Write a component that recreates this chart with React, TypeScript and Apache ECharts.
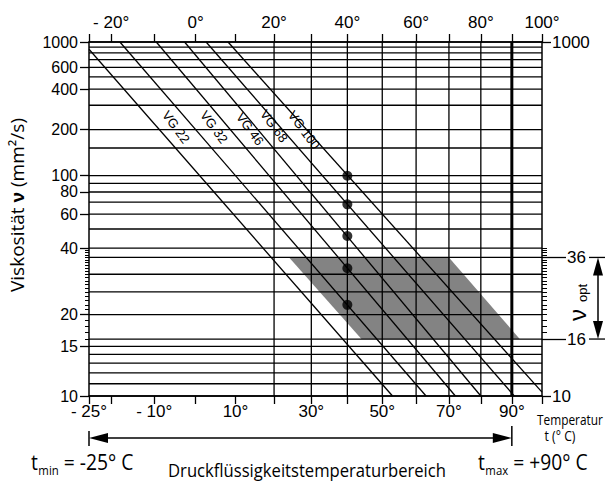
import React, { useEffect, useRef } from "react";
import * as echarts from "echarts";

const KELVIN = 273;
const tx = (t: number) => Math.log10(t + KELVIN);
const ty = (v: number) => Math.log10(Math.log10(v + 0.7));
const untx = (x: number) => Math.pow(10, x) - KELVIN;
const unty = (y: number) => Math.pow(10, Math.pow(10, y)) - 0.7;

// axis ranges
const tempRange = [-25, 100];
const viscRange = [10, 1000];

// temperature axis
const topLabelTemps = [-20, 0, 20, 40, 60, 80, 100];
const bottomLabelTemps = [-25, -10, 10, 30, 50, 70, 90];
const tickTemps = [-25, -20, -10, 0, 10, 20, 30, 40, 50, 60, 70, 80, 90, 100];
const gridTemps = [20, 30, 40, 50, 60, 70, 80];
const boldGridTemps = [90];

// viscosity axis
const gridVisc = [1000, 900, 800, 700, 600, 500, 400, 300, 200, 150, 100, 90, 80, 70, 60, 50, 40, 36, 30, 25, 20, 16, 15, 14, 13, 12, 11, 10];
const leftLabelVisc = [1000, 600, 400, 200, 100, 80, 60, 40, 20, 15, 10];
const leftMinorVisc = [39, 38, 37, 36, 35, 34, 33, 32, 31, 30, 29, 28, 27, 26, 25, 24, 23, 22, 21, 19, 18, 17, 16];
const rightLabelVisc = [1000, 10];
const optVisc = [36, 16];
const rightMinorVisc = [40, 39, 38, 37, 35, 34, 33, 32, 31, 30, 29, 28, 27, 26, 25, 24, 23, 22, 21, 20, 19, 18, 17];

// ISO VG grades, viscosity at 40 °C
const vgNames = ["VG 22", "VG 32", "VG 46", "VG 68", "VG 100"];
const vgVisc40 = [22, 32, 46, 68, 100];
const refTemp = 40;

// viscosity-temperature lines: [temp, viscosity] start and end points
const lineStarts = [[-25, 860], [-18, 1000], [-9.5, 1000], [-2.7, 1000], [2.6, 1000], [8.1, 1000]];
const lineEnds = [[53, 10], [63, 10], [72, 10], [80, 10], [90.8, 10], [100, 10.3]];

// optimum viscosity band (parallelogram corners)
const optBand = [[24, 36], [70, 36], [92.6, 16], [44, 16]];

// operating temperature range
const tempSpan = [-25, 90];

const FONT = "'Liberation Sans', Arial, Helvetica, sans-serif";
const COND = "'Open Sans', 'Noto Sans', sans-serif";
const BLACK = "#000";

export default function App() {
  const ref = useRef<HTMLDivElement>(null);
  useEffect(() => {
    const el = ref.current!;
    const chart = echarts.init(el, null, { renderer: "svg" });
    const X0 = tx(tempRange[0]);
    const X1 = tx(tempRange[1]);
    const Y0 = ty(viscRange[0]);
    const Y1 = ty(viscRange[1]);
    const fmtT = (v: number) => {
      const t = Math.round(untx(v));
      return t < 0 ? `- ${-t}°` : `${t}°`;
    };
    const fmtV = (v: number) => String(Math.round(unty(v)));
    const labelStyle = { fontSize: 16, fontFamily: FONT, color: BLACK };
    const tickLine = { color: BLACK, width: 1.3 };
    const xBase: any = {
      type: "value",
      min: X0,
      max: X1,
      splitLine: { show: false },
      axisLine: { show: true, lineStyle: { color: BLACK, width: 1.5 } },
    };
    const yBase: any = {
      type: "value",
      min: Y0,
      max: Y1,
      splitLine: { show: false },
    };

    const gridLine = (data: number[][], vertical: boolean, width: number) => ({
      type: "custom",
      silent: true,
      z: 3,
      data,
      renderItem: (params: any, api: any) => {
        const a = vertical ? api.coord([api.value(0), Y0]) : api.coord([X0, api.value(1)]);
        const b = vertical ? api.coord([api.value(0), Y1]) : api.coord([X1, api.value(1)]);
        return {
          type: "line",
          shape: { x1: a[0], y1: a[1], x2: b[0], y2: b[1] },
          style: { stroke: BLACK, lineWidth: width },
        };
      },
    });

    const option: any = {
      animation: false,
      backgroundColor: "#fff",
      grid: { left: 89, right: 63, top: 42, bottom: 88, containLabel: false, outerBoundsMode: "none" },
      xAxis: [
        {
          ...xBase,
          position: "bottom",
          axisTick: { length: 8, customValues: tickTemps.map(tx), lineStyle: tickLine },
          axisLabel: { ...labelStyle, fontSize: 17, customValues: bottomLabelTemps.map(tx), formatter: fmtT, margin: 7 },
        },
        {
          ...xBase,
          position: "top",
          axisTick: { length: 8, customValues: tickTemps.map(tx), lineStyle: tickLine },
          axisLabel: { ...labelStyle, fontSize: 17, customValues: topLabelTemps.map(tx), formatter: fmtT, margin: 11 },
        },
      ],
      yAxis: [
        {
          ...yBase,
          position: "left",
          axisLine: { show: true, lineStyle: { color: BLACK, width: 1.5 } },
          axisTick: { length: 9, customValues: leftLabelVisc.map(ty), lineStyle: tickLine },
          axisLabel: { ...labelStyle, customValues: leftLabelVisc.map(ty), formatter: fmtV, margin: 11 },
        },
        {
          ...yBase,
          position: "left",
          axisLine: { show: false },
          axisTick: { length: 4, customValues: leftMinorVisc.map(ty), lineStyle: { color: BLACK, width: 1 } },
          axisLabel: { show: false },
        },
        {
          ...yBase,
          position: "right",
          axisLine: { show: true, lineStyle: { color: BLACK, width: 1.5 } },
          axisTick: { length: 9, customValues: rightLabelVisc.map(ty), lineStyle: tickLine },
          axisLabel: { ...labelStyle, fontSize: 17, customValues: rightLabelVisc.map(ty), formatter: fmtV, margin: 10 },
        },
        {
          ...yBase,
          position: "right",
          axisLine: { show: false },
          axisTick: { length: 24, customValues: optVisc.map(ty), lineStyle: tickLine },
          axisLabel: { ...labelStyle, fontSize: 17, customValues: optVisc.map(ty), formatter: fmtV, margin: 25 },
        },
        {
          ...yBase,
          position: "right",
          axisLine: { show: false },
          axisTick: { length: 5, customValues: rightMinorVisc.map(ty), lineStyle: { color: BLACK, width: 1 } },
          axisLabel: { show: false },
        },
      ],
      series: [
        {
          type: "custom",
          silent: true,
          z: 1,
          data: optBand.map((p) => [tx(p[0]), ty(p[1])]),
          renderItem: (params: any, api: any) => {
            if (params.dataIndex !== 0) return null;
            const pts = optBand.map((p) => api.coord([tx(p[0]), ty(p[1])]));
            return { type: "polygon", shape: { points: pts }, style: { fill: "#838383" } };
          },
        },
        gridLine(gridVisc.map((v) => [X0, ty(v)]), false, 1.3),
        gridLine(gridTemps.map((t) => [tx(t), Y0]), true, 1.3),
        gridLine(boldGridTemps.map((t) => [tx(t), Y0]), true, 3),
        ...lineStarts.map((s, i) => ({
          type: "line",
          silent: true,
          z: 4,
          symbol: "none",
          lineStyle: { color: BLACK, width: 1.3 },
          data: [
            [tx(s[0]), ty(s[1])],
            [tx(lineEnds[i][0]), ty(lineEnds[i][1])],
          ],
        })),
        {
          type: "scatter",
          silent: true,
          z: 5,
          symbol: "circle",
          symbolSize: 10,
          itemStyle: { color: BLACK },
          data: vgVisc40.map((v) => [tx(refTemp), ty(v)]),
        },
      ],
    };
    chart.setOption(option);

    const px = (t: number) => chart.convertToPixel({ xAxisIndex: 0 }, tx(t)) as number;
    const py = (v: number) => chart.convertToPixel({ yAxisIndex: 0 }, ty(v)) as number;
    const ctx = document.createElement("canvas").getContext("2d")!;
    const mw = (text: string, size: number, family: string, weight = "normal") => {
      ctx.font = `${weight} ${size}px ${family}`;
      return ctx.measureText(text).width;
    };
    const g: any[] = [];
    const ln = (x1: number, y1: number, x2: number, y2: number, w = 1.5) =>
      g.push({ type: "line", silent: true, shape: { x1, y1, x2, y2 }, style: { stroke: BLACK, lineWidth: w } });
    const poly = (points: number[][]) => g.push({ type: "polygon", silent: true, shape: { points }, style: { fill: BLACK } });
    const txt = (x: number, y: number, text: string, size: number, family: string, extra: any = {}, style: any = {}) =>
      g.push({
        type: "text",
        silent: true,
        x,
        y,
        ...extra,
        style: { text, fill: BLACK, fontSize: size, fontFamily: family, align: "left", verticalAlign: "middle", ...style },
      });

    // bottom temperature range arrow
    const xa = px(tempSpan[0]);
    const xb = px(tempSpan[1]);
    const ay = 438;
    ln(xa + 10, ay, xb - 10, ay);
    poly([[xa, ay], [xa + 19, ay - 5], [xa + 19, ay + 5]]);
    poly([[xb, ay], [xb - 19, ay - 5], [xb - 19, ay + 5]]);
    ln(xa, ay - 7, xa, ay + 8);
    ln(xb, ay - 12, xb, ay + 8);

    // right optimum viscosity arrow
    const ya = py(optVisc[0]);
    const yb = py(optVisc[1]);
    const ax = 598;
    ln(ax, ya + 10, ax, yb - 10);
    poly([[ax, ya], [ax - 5, ya + 18], [ax + 5, ya + 18]]);
    poly([[ax, yb], [ax - 5, yb - 18], [ax + 5, yb - 18]]);
    ln(589, ya, 605, ya, 1.3);
    ln(589, yb, 605, yb, 1.3);

    // nu_opt label
    g.push({
      type: "group",
      x: 577,
      y: 302,
      rotation: Math.PI / 2,
      children: [
        { type: "text", x: -13, y: 0, style: { text: "ν", fill: BLACK, fontSize: 24, fontFamily: FONT, align: "center", verticalAlign: "middle" } },
        { type: "text", x: 9, y: 5, style: { text: "opt", fill: BLACK, fontSize: 13, fontFamily: FONT, align: "center", verticalAlign: "middle" } },
      ],
    });

    // VG labels along lines
    const vgPos = [[176, 127], [214, 127], [250, 129], [274, 126], [304, 130]];
    vgNames.forEach((name, i) => {
      g.push({
        type: "text",
        silent: true,
        x: vgPos[i][0],
        y: vgPos[i][1],
        rotation: -0.93,
        style: { text: name, fill: BLACK, fontSize: 13, fontFamily: FONT, align: "center", verticalAlign: "middle" },
      });
    });

    // y axis title
    const tA = "Viskosität ";
    const tB = "ν";
    const tC = " (mm²/s)";
    const ys = 19;
    const wTitle = mw(tA, ys, COND) + mw(tB, ys, FONT, "bold") + mw(tC, ys, COND);
    g.push({
      type: "text",
      silent: true,
      x: 17,
      y: 205,
      rotation: Math.PI / 2,
      scaleX: 174 / wTitle,
      style: {
        text: `{a|${tA}}{b|${tB}}{a|${tC}}`,
        fill: BLACK,
        align: "center",
        verticalAlign: "middle",
        rich: {
          a: { fontSize: ys, fontFamily: COND, fill: BLACK },
          b: { fontSize: ys, fontFamily: FONT, fontWeight: "bold", fill: BLACK },
        },
      },
    });

    // bottom title
    const bt = "Druckflüssigkeitstemperaturbereich";
    const bs = 19;
    const sx = 278 / mw(bt, bs, COND);
    txt(307, 470, bt, bs, COND, { scaleX: sx }, { align: "center" });

    // t_min / t_max
    const sub = (x0: number, main1: string, subT: string, rest: string, y: number) => {
      const s1 = 22;
      const s2 = 13;
      let x = x0;
      txt(x, y, main1, s1, COND, { scaleX: sx });
      x += mw(main1, s1, COND) * sx + 0.5;
      txt(x, y + 9, subT, s2, COND, { scaleX: sx });
      x += mw(subT, s2, COND) * sx;
      txt(x, y, rest, s1, COND, { scaleX: sx });
    };
    sub(31, "t", "min", " = -25° C", 461);
    sub(478, "t", "max", " = +90° C", 461);

    // temperature axis caption
    const capT = "Temperatur";
    txt(537, 420, capT, 14, COND, { scaleX: 66 / mw(capT, 14, COND) });
    txt(560, 436, "t (° C)", 14, COND, { scaleX: sx }, { align: "center" });

    chart.setOption({ graphic: g });

    return () => chart.dispose();
  }, []);
  return (
    <div
      ref={ref}
      style={{ position: "fixed", left: 0, top: 0, width: 605, height: 484, background: "#fff" }}
    />
  );
}
